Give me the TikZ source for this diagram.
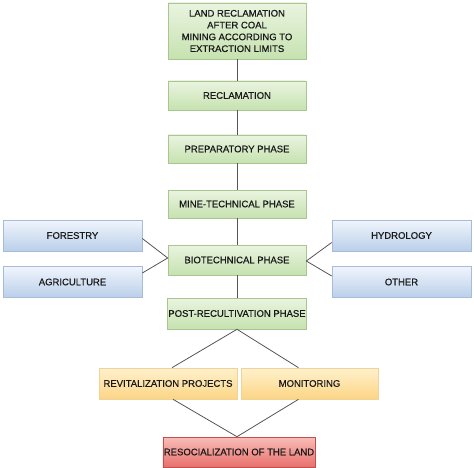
\documentclass[tikz,border=0pt]{standalone}
\usepackage{fontspec}
\setmainfont{Liberation Sans}
\newfontfamily\boxfont{Liberation Sans}[UprightFeatures={FakeBold=0.5}]
\definecolor{gtop}{HTML}{EAF4E0}
\definecolor{gbot}{HTML}{C6E2B0}
\definecolor{gline}{HTML}{A9C690}
\definecolor{btop}{HTML}{F0F5FC}
\definecolor{bbot}{HTML}{BACFEA}
\definecolor{bline}{HTML}{A8BCD8}
\definecolor{otop}{HTML}{FFF1CC}
\definecolor{obot}{HTML}{FCD585}
\definecolor{oline}{HTML}{EFD39A}
\definecolor{rtop}{HTML}{F9BDB8}
\definecolor{rbot}{HTML}{E8706C}
\definecolor{rline}{HTML}{C0504D}
\definecolor{conn}{HTML}{555555}
\begin{document}
\begin{tikzpicture}[x=1pt,y=-1pt,
  box/.style={rectangle,inner sep=1pt,align=center,font=\boxfont\fontsize{9.5}{10.5}\selectfont,text=black!90,line width=0.6pt},
  gbox/.style={box,draw=gline,top color=gtop,bottom color=gbot,minimum width=138pt},
  bbox/.style={box,draw=bline,top color=btop,bottom color=bbot,minimum width=139pt,minimum height=31pt},
  obox/.style={box,draw=oline,top color=otop,bottom color=obot,minimum height=31pt},
  rbox/.style={box,draw=rline,top color=rtop,bottom color=rbot,minimum width=150pt,minimum height=30pt},
  link/.style={draw=conn,line width=0.8pt}]
\useasboundingbox (0,0) rectangle (474,468);
\node[gbox,minimum height=56pt,font=\boxfont\fontsize{9.5}{11.8}\selectfont] (top) at (237,31) {LAND RECLAMATION\\AFTER COAL\\MINING ACCORDING TO\\EXTRACTION LIMITS};
\node[gbox,minimum height=29pt] (recl) at (237,95.5) {RECLAMATION};
\node[gbox,minimum height=28pt] (prep) at (237,149) {PREPARATORY PHASE};
\node[gbox,minimum height=28pt] (mine) at (237,204) {MINE-TECHNICAL PHASE};
\node[gbox,minimum height=30pt] (bio) at (237,260) {BIOTECHNICAL PHASE};
\node[gbox,minimum height=31pt] (post) at (237,313.5) {POST-RECULTIVATION PHASE};
\node[bbox] (for) at (72.5,235.5) {FORESTRY};
\node[bbox] (agr) at (72.5,282) {AGRICULTURE};
\node[bbox] (hyd) at (401.5,235.5) {HYDROLOGY};
\node[bbox] (oth) at (401.5,282) {OTHER};
\node[obox,minimum width=138pt] (rev) at (168,383.5) {REVITALIZATION PROJECTS};
\node[obox,minimum width=137pt] (mon) at (309.5,383.5) {MONITORING};
\node[rbox] (res) at (239,452) {RESOCIALIZATION OF THE LAND};
\path[link] (top) -- (recl);
\path[link] (recl) -- (prep);
\path[link] (prep) -- (mine);
\path[link] (mine) -- (bio);
\path[link] (bio) -- (post);
\path[link] ([yshift=-3pt]for.east) -- ([yshift=2pt]bio.west);
\path[link] ([yshift=9pt]agr.east) -- ([yshift=2pt]bio.west);
\path[link] ([yshift=-7pt]hyd.west) -- ([yshift=-1pt]bio.east);
\path[link] ([yshift=6pt]oth.west) -- ([yshift=-1pt]bio.east);
\path[link] (post.south) -- ([xshift=4pt]rev.north);
\path[link] (post.south) -- ([xshift=-11pt]mon.north);
\path[link] ([xshift=5pt]rev.south) -- ([xshift=-2pt]res.north);
\path[link] ([xshift=-11pt]mon.south) -- ([xshift=-2pt]res.north);
\end{tikzpicture}
\end{document}
